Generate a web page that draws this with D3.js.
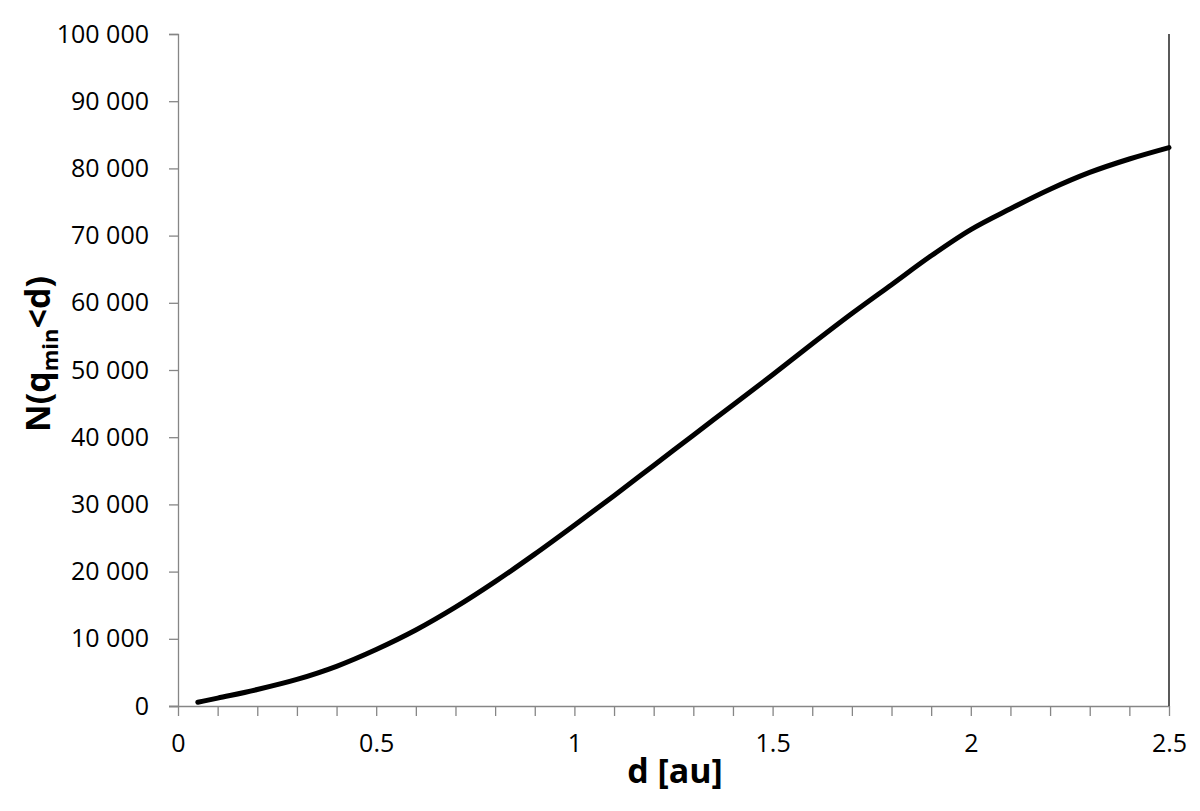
<!DOCTYPE html>
<html>
<head>
<meta charset="utf-8">
<script src="https://cdn.jsdelivr.net/npm/d3@7"></script>
<style>
  html, body { margin: 0; padding: 0; background: #fff; }
  svg { display: block; }
  text { font-family: "Open Sans", "Noto Sans", sans-serif; fill: #000; }
</style>
</head>
<body>
<svg id="chart" width="1200" height="811"></svg>
<script>
// ---- data ----
const distance = [0.05, 0.1, 0.2, 0.3, 0.4, 0.5, 0.6, 0.7, 0.8, 0.9, 1.0, 1.1, 1.2, 1.3, 1.4, 1.5, 1.6, 1.7, 1.8, 1.9, 2.0, 2.1, 2.2, 2.3, 2.4, 2.5];
const count = [550, 1180, 2450, 3950, 5900, 8400, 11300, 14700, 18500, 22600, 26900, 31300, 35800, 40300, 44800, 49300, 53900, 58400, 62700, 67000, 70900, 74000, 76900, 79400, 81400, 83100];
const xTickLabels = [0, 0.5, 1, 1.5, 2, 2.5];
const xMinorTicks = d3.range(0, 26).map(i => i / 10);
const yTickLabels = [0, 10000, 20000, 30000, 40000, 50000, 60000, 70000, 80000, 90000, 100000];
const xTitle = "d [au]";

// ---- layout ----
const svg = d3.select("#chart");
const x = d3.scaleLinear().domain([0, 2.5]).range([178, 1169]);
const y = d3.scaleLinear().domain([0, 100000]).range([706, 34]);
const axisGrey = "#868686";
const fmtY = v => d3.format(",")(v).replace(/,/g, " ");

// y axis
const yAxis = svg.append("g").attr("transform", `translate(${x(0)},0)`)
  .call(d3.axisLeft(y).tickValues(yTickLabels).tickSize(9).tickPadding(20).tickFormat(fmtY));
yAxis.select(".domain").attr("stroke", axisGrey).attr("stroke-width", 1.3);
yAxis.selectAll(".tick line").attr("stroke", axisGrey).attr("stroke-width", 1.3);
yAxis.selectAll(".tick text").attr("font-size", 25).attr("font-family", "Open Sans").attr("fill", "#000");

// x axis: minor ticks every 0.1, labels every 0.5
const xAxis = svg.append("g").attr("transform", `translate(0,${y(0)})`)
  .call(d3.axisBottom(x).tickValues(xMinorTicks).tickSize(10).tickSizeOuter(0)
    .tickFormat(v => ""));
xAxis.select(".domain").attr("stroke", axisGrey).attr("stroke-width", 1.3)
  .attr("d", `M${x(0) - 9},0.5H${x(2.5)}`);
xAxis.selectAll(".tick line").attr("stroke", axisGrey).attr("stroke-width", 1.3);

const xLab = svg.append("g").attr("transform", `translate(0,${y(0)})`)
  .call(d3.axisBottom(x).tickValues(xTickLabels).tickSize(0).tickPadding(28)
    .tickFormat(d3.format("")));
xLab.select(".domain").remove();
xLab.selectAll(".tick text").attr("font-size", 25).attr("font-family", "Open Sans").attr("fill", "#000");

// right border line
svg.append("line")
  .attr("x1", x(2.5)).attr("x2", x(2.5))
  .attr("y1", y(100000)).attr("y2", y(0))
  .attr("stroke", "#000").attr("stroke-width", 1.3);

// curve
const line = d3.line()
  .x((d, i) => x(distance[i]))
  .y(d => y(d))
  .curve(d3.curveMonotoneX);
svg.append("path")
  .datum(count)
  .attr("d", line)
  .attr("fill", "none")
  .attr("stroke", "#000")
  .attr("stroke-width", 5)
  .attr("stroke-linecap", "round")
  .attr("stroke-linejoin", "round");

// axis titles
svg.append("text")
  .attr("x", 675).attr("y", 783)
  .attr("text-anchor", "middle")
  .attr("font-size", 34).attr("font-weight", "bold")
  .text(xTitle);

const yt = svg.append("text")
  .attr("transform", "translate(50,354) rotate(-90)")
  .attr("text-anchor", "middle")
  .attr("font-size", 34).attr("font-weight", "bold");
yt.append("tspan").text("N(q");
yt.append("tspan").attr("font-size", 22).attr("dy", 8).text("min");
yt.append("tspan").attr("dy", -8).text("<d)");
</script>
</body>
</html>
